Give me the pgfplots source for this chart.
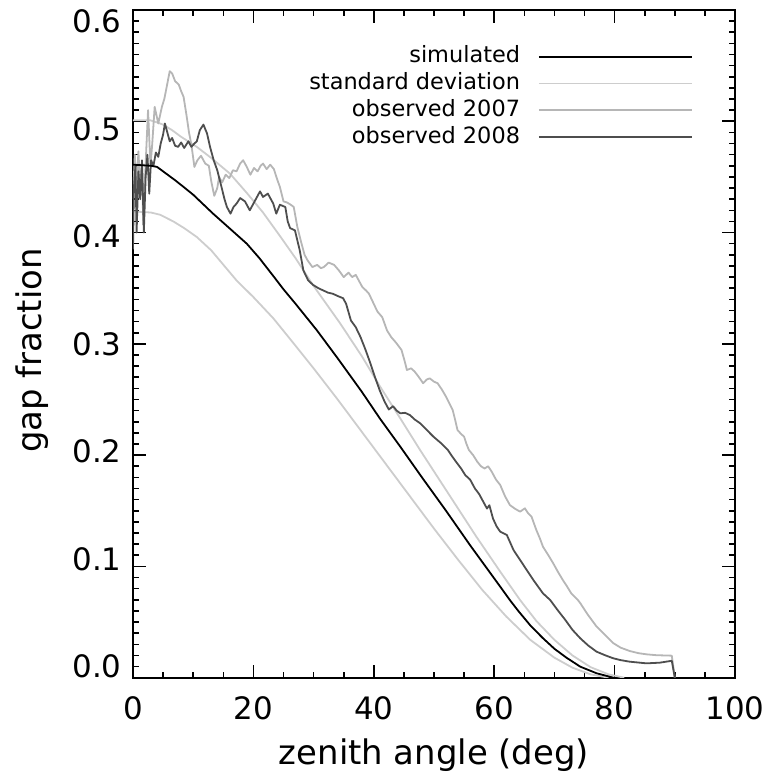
\documentclass[border=0pt]{standalone}
\usepackage{fontspec}
\setmainfont{DejaVu Sans}
\usepackage{pgfplots}
\pgfplotsset{compat=1.18}
\definecolor{stdgray}{RGB}{205,205,205}
\definecolor{obsA}{RGB}{182,182,182}
\definecolor{obsB}{RGB}{78,78,78}
\begin{document}
\begin{tikzpicture}
\begin{axis}[
  scale only axis, width=602bp, height=667.7bp,
  xmin=0, xmax=100, ymin=0, ymax=0.6,
  xtick={0,20,40,60,80,100}, ytick={0,0.1,0.2,0.3,0.4,0.5,0.6},
  minor x tick num=3, minor y tick num=9,
  tick align=inside,
  major tick length=13bp, minor tick length=6bp,
  axis line style={line width=1.6bp},
  every tick/.style={black, line width=1.6bp},
  /pgf/number format/assume math mode=true,
  tick label style={font=\fontsize{31}{31}\selectfont},
  yticklabel style={/pgf/number format/fixed, /pgf/number format/fixed zerofill, /pgf/number format/precision=1, xshift=-8bp, yshift={(3-\ticknum)*3.75bp}},
  xticklabel style={yshift=-15bp},
  xlabel={zenith angle (deg)}, ylabel={gap fraction},
  every axis x label/.style={at={(axis description cs:0.5,0)}, anchor=center, yshift=-77bp, font=\fontsize{34}{34}\selectfont},
  every axis y label/.style={at={(axis description cs:-0.168,0.49)}, rotate=90, anchor=center, font=\fontsize{34}{34}\selectfont},
  legend style={draw=none, fill=none, inner sep=0pt, outer sep=0pt, at={(rel axis cs:0.930,0.870)}, anchor=east, row sep=0pt, column sep=18bp, font=\fontsize{22.5}{26.7}\selectfont, nodes={inner sep=0pt, text height=19.55bp, text depth=7.15bp}},
  legend cell align=right,
  legend plot pos=right,
  legend image code/.code={\draw[#1] (0bp,0bp) -- (153bp,0bp);},
  every axis plot/.append style={line width=1.8bp, line join=round},
]
\addlegendimage{black, line width=1.8bp}
\addlegendentry{simulated}
\addlegendimage{stdgray, line width=1.8bp}
\addlegendentry{standard deviation}
\addlegendimage{obsA, line width=1.8bp}
\addlegendentry{observed 2007}
\addlegendimage{obsB, line width=1.8bp}
\addlegendentry{observed 2008}

% standard deviation, upper
\addplot[stdgray, forget plot] coordinates {(0,0.501)(2.8,0.501)(4,0.499)(5,0.497)(6.5,0.492)(8,0.486)(10.6,0.477)(13,0.467)(16.1,0.453)(19,0.435)(21.6,0.418)(24.4,0.397)(27,0.377)(30,0.352)(34.4,0.3185)(38,0.289)(41,0.262)(44.4,0.233)(47.7,0.2045)(51,0.177)(54,0.152)(57,0.127)(61,0.0953)(64.3,0.0698)(67,0.051)(70,0.034)(73,0.02)(76,0.0095)(79,0.003)(81.6,0)};
% standard deviation, lower
\addplot[stdgray, forget plot] coordinates {(0,0.419)(3,0.418)(4.5,0.416)(6.7,0.41)(8.5,0.404)(10.6,0.396)(13,0.384)(17.2,0.357)(20,0.342)(23.3,0.323)(26,0.305)(30,0.278)(34,0.25)(38,0.221)(42,0.192)(46,0.163)(50,0.134)(54,0.106)(58,0.079)(62,0.055)(66,0.034)(70,0.018)(73,0.009)(76,0.003)(79,0)};
% observed 2007
\addplot[obsA, forget plot] coordinates {(0,0.43)(0.3,0.47)(0.6,0.44)(0.9,0.473)(1.2,0.44)(1.5,0.46)(1.7,0.407)(2.0,0.45)(2.5,0.51)(2.9,0.46)(3.2,0.48)(3.6,0.513)(4.2,0.498)(4.8,0.513)(5.2,0.52)(5.6,0.531)(6.1,0.545)(6.5,0.543)(7.0,0.536)(7.6,0.533)(8.0,0.527)(8.4,0.522)(8.9,0.505)(9.3,0.49)(9.7,0.479)(10.2,0.459)(10.7,0.465)(11.3,0.469)(12.0,0.462)(12.6,0.46)(13.0,0.446)(13.5,0.433)(14.0,0.44)(14.3,0.45)(14.8,0.445)(15.4,0.452)(16.0,0.449)(16.6,0.456)(17.2,0.455)(17.8,0.462)(18.3,0.465)(18.9,0.459)(19.5,0.452)(20.1,0.458)(20.7,0.455)(21.2,0.46)(21.6,0.462)(22.2,0.457)(22.8,0.461)(23.4,0.457)(24.0,0.447)(24.4,0.441)(25.0,0.428)(25.6,0.427)(26.2,0.425)(26.7,0.423)(27.3,0.405)(27.9,0.392)(28.5,0.38)(29.0,0.375)(29.8,0.369)(30.6,0.371)(31.2,0.368)(31.7,0.369)(32.5,0.373)(33.4,0.371)(34.2,0.366)(35.0,0.36)(35.8,0.364)(36.4,0.36)(37.0,0.362)(37.6,0.356)(38.1,0.351)(38.7,0.348)(39.2,0.345)(39.9,0.337)(40.6,0.329)(41.4,0.324)(42.2,0.312)(42.9,0.306)(43.7,0.301)(44.6,0.2945)(45.1,0.285)(45.5,0.2765)(46.2,0.278)(46.8,0.275)(47.5,0.27)(48.2,0.2646)(48.8,0.268)(49.3,0.269)(50.0,0.266)(50.6,0.2646)(51.3,0.259)(52.0,0.2525)(52.6,0.246)(53.1,0.2406)(53.5,0.232)(53.9,0.2226)(54.5,0.219)(55.0,0.2166)(55.4,0.21)(55.8,0.2046)(56.5,0.2)(57.2,0.194)(57.8,0.19)(58.4,0.188)(59.0,0.19)(59.6,0.185)(60.3,0.178)(61.0,0.1732)(61.8,0.163)(62.6,0.1552)(63.4,0.152)(64.3,0.1492)(65.1,0.1522)(65.6,0.148)(66.2,0.1447)(67.0,0.1327)(67.6,0.125)(68.1,0.1177)(69.0,0.11)(69.8,0.1028)(70.6,0.095)(71.4,0.0878)(72.1,0.082)(72.8,0.0758)(73.9,0.0698)(74.3,0.067)(75.5,0.057)(77.0,0.046)(78.5,0.038)(79.8,0.031)(81.0,0.027)(82.5,0.024)(84.0,0.022)(85.3,0.021)(87.0,0.0202)(89.5,0.0198)(90.0,0.0)};
% observed 2008
\addplot[obsB, forget plot] coordinates {(0,0.385)(0.15,0.44)(0.4,0.46)(0.6,0.40)(0.9,0.455)(1.2,0.43)(1.5,0.465)(1.8,0.40)(2.1,0.45)(2.4,0.47)(2.7,0.435)(3.0,0.465)(3.4,0.46)(3.8,0.472)(4.2,0.468)(4.6,0.48)(5.0,0.488)(5.3,0.498)(5.7,0.49)(6.1,0.482)(6.5,0.485)(7.0,0.478)(7.5,0.477)(8.0,0.481)(8.5,0.476)(9.2,0.482)(9.7,0.477)(10.2,0.48)(10.6,0.482)(11.1,0.492)(11.7,0.497)(12.3,0.489)(12.8,0.477)(13.4,0.465)(14.0,0.456)(14.7,0.441)(15.2,0.43)(15.6,0.423)(16.2,0.417)(16.7,0.423)(17.2,0.426)(17.8,0.431)(18.6,0.428)(19.4,0.42)(20.3,0.429)(21.1,0.437)(21.6,0.432)(22.4,0.435)(23.3,0.426)(23.8,0.417)(24.4,0.425)(25.3,0.423)(25.7,0.41)(26.1,0.404)(26.9,0.402)(27.7,0.384)(28.3,0.366)(29.1,0.357)(29.9,0.353)(30.8,0.35)(31.6,0.348)(32.4,0.346)(33.2,0.345)(34.0,0.343)(34.9,0.341)(35.4,0.336)(36.2,0.321)(37.0,0.315)(37.8,0.306)(38.6,0.295)(39.4,0.283)(40.2,0.27)(41.0,0.258)(41.8,0.248)(42.5,0.241)(43.2,0.244)(43.8,0.24)(44.4,0.2376)(45.2,0.238)(46.0,0.236)(46.8,0.232)(47.7,0.2286)(48.8,0.2226)(49.9,0.2166)(51.2,0.2106)(52.3,0.2046)(53.0,0.199)(53.8,0.193)(54.5,0.188)(55.2,0.182)(56.0,0.178)(56.8,0.17)(57.5,0.165)(58.2,0.158)(58.8,0.152)(59.2,0.155)(59.8,0.143)(60.4,0.136)(61.0,0.1312)(62.1,0.1282)(63.2,0.1148)(64.3,0.1058)(65.4,0.0968)(66.5,0.0878)(68.1,0.0758)(69.3,0.0698)(70.5,0.061)(71.8,0.052)(73.0,0.043)(74.3,0.0354)(75.6,0.029)(77.0,0.0234)(78.5,0.02)(79.8,0.0174)(81.0,0.0158)(82.5,0.0144)(85.3,0.0129)(87.5,0.0135)(89.5,0.0152)(90.0,0.0)};
% simulated
\addplot[black, forget plot] coordinates {(0,0.461)(3,0.46)(4,0.459)(5,0.455)(6,0.451)(7,0.447)(8.4,0.441)(10,0.434)(13.3,0.417)(16,0.404)(18.9,0.39)(21,0.377)(23.3,0.361)(25,0.349)(27,0.336)(30.5,0.3125)(34,0.287)(38,0.257)(41,0.233)(44.4,0.2076)(48,0.18)(52,0.15)(56,0.119)(61,0.0818)(62.6,0.0698)(64,0.06)(66,0.047)(68,0.036)(70,0.026)(72,0.018)(74.3,0.0099)(77,0.004)(79.8,0)};
\end{axis}
\pgfresetboundingbox
\path (current axis.south west) ++(-133bp,-104.3bp) rectangle ++(769bp,782bp);
\end{tikzpicture}
\end{document}
